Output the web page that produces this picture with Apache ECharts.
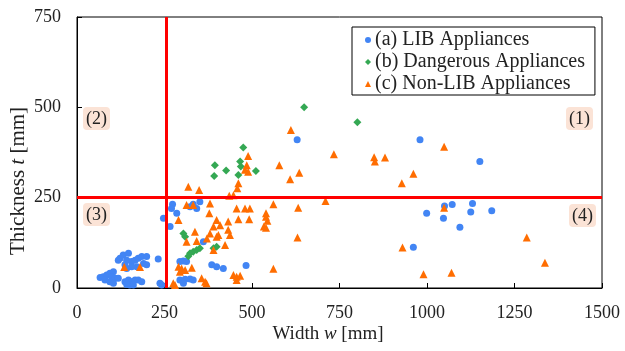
<!DOCTYPE html>
<html>
<head>
<meta charset="utf-8">
<script src="https://cdn.jsdelivr.net/npm/echarts@6/dist/echarts.min.js"></script>
<style>
  html, body { margin: 0; padding: 0; background: #fff; }
  #chart { width: 625px; height: 351px; }
</style>
</head>
<body>
<div id="chart"></div>
<script>
// [width, thickness] in mm
const libAppliances = [
  [66, 29], [75, 31], [85, 36], [94, 41], [104, 45], [99, 31], [109, 27], [94, 17], [104, 13], [80, 22], [118, 27],
  [123, 82], [132, 91], [147, 96], [142, 77], [156, 73], [166, 77], [175, 82], [185, 87], [199, 87], [190, 68],
  [199, 64], [171, 59], [156, 59], [142, 54], [137, 64], [118, 77], [232, 80],
  [137, 17], [147, 22], [156, 17], [166, 22], [175, 22], [185, 17], [151, 8], [161, 8], [142, 10], [237, 13], [242, 8],
  [294, 73], [304, 75], [313, 73], [385, 64], [399, 59], [418, 54], [483, 62], [294, 22], [309, 24], [323, 25],
  [332, 22], [304, 13], [361, 128],
  [273, 232], [270, 220], [285, 207], [247, 193], [266, 170], [332, 232], [342, 220], [351, 239], [323, 225],
  [629, 410], [980, 410], [1151, 350],
  [999, 207], [1047, 193], [1050, 227], [1072, 231], [1094, 168], [1125, 210], [1130, 234], [1185, 214], [961, 113]
];
const dangerousAppliances = [
  [323, 96], [332, 100], [342, 105], [351, 110], [318, 88], [390, 110], [399, 114], [309, 142], [304, 151],
  [475, 389], [394, 340], [426, 325], [392, 310], [466, 350], [468, 336], [461, 313], [511, 324],
  [649, 500], [801, 459]
];
const nonLibAppliances = [
  [135, 58], [180, 58],
  [275, 13], [280, 8], [290, 59], [299, 54], [309, 50], [294, 45], [328, 56], [356, 27], [366, 17], [370, 13],
  [447, 36], [456, 31], [466, 34], [456, 22], [561, 53],
  [313, 128], [342, 130], [371, 137], [390, 105], [423, 119], [399, 142], [337, 156], [380, 151], [404, 147],
  [432, 161], [437, 147], [390, 170], [409, 174], [432, 184], [399, 188], [290, 188], [378, 207], [461, 190],
  [492, 190], [456, 220], [480, 220], [494, 220], [313, 230], [332, 230], [380, 234], [540, 207], [544, 186],
  [534, 170], [540, 167], [540, 197], [561, 232], [632, 222], [630, 140], [710, 241],
  [318, 280], [349, 271], [461, 290], [458, 276], [447, 257], [435, 255], [489, 365], [485, 340], [480, 327],
  [489, 322], [611, 437], [578, 340], [609, 301], [635, 319], [734, 370], [849, 362], [851, 350], [880, 361],
  [961, 316], [928, 290], [1049, 391], [1049, 222],
  [930, 112], [990, 38], [1070, 42], [1285, 140], [1337, 70]
];
const seriesNames = ['(a) LIB Appliances', '(b) Dangerous Appliances', '(c) Non-LIB Appliances'];
const widthLimit = 255;
const thicknessLimit = 250;
const quadrantLabels = ['(1)', '(2)', '(3)', '(4)'];

const serif = '"Liberation Serif", "Times New Roman", serif';
const chart = echarts.init(document.getElementById('chart'));

const quadrantBox = (text, x, y) => ({
  type: 'text',
  left: x,
  top: y,
  style: {
    text: text,
    font: '18px ' + serif,
    fill: '#222',
    backgroundColor: '#FBE3D6',
    padding: [3, 3, 2, 3],
    borderRadius: 4
  }
});

const axisTitle = (parts, x, y, size, rotation) => ({
  type: 'text',
  x: x,
  y: y,
  rotation: rotation,
  style: {
    text: parts.map(([style, s]) => `{${style}|${s}}`).join(''),
    align: 'center',
    verticalAlign: 'middle',
    rich: {
      n: { fontFamily: serif, fontSize: size, fill: '#222' },
      i: { fontFamily: serif, fontSize: size, fontStyle: 'italic', fill: '#222' }
    }
  }
});

chart.setOption({
  animation: false,
  grid: {
    left: 77, right: 23, top: 17, bottom: 63,
    outerBoundsMode: 'none',
    show: true, borderColor: '#000', borderWidth: 1
  },
  xAxis: {
    type: 'value',
    min: 0,
    max: 1500,
    interval: 250,
    axisLine: { lineStyle: { color: '#000' } },
    axisTick: { inside: true, length: 5, lineStyle: { color: '#000' } },
    axisLabel: { fontFamily: serif, fontSize: 18, color: '#222', margin: 16, formatter: v => String(v) },
    splitLine: { show: false }
  },
  yAxis: {
    type: 'value',
    min: 0,
    max: 750,
    interval: 250,
    axisLine: { show: true, lineStyle: { color: '#000' } },
    axisTick: { show: true, inside: true, length: 5, lineStyle: { color: '#000' } },
    axisLabel: { fontFamily: serif, fontSize: 18, color: '#222', margin: 16 },
    splitLine: { show: false }
  },
  legend: {
    orient: 'vertical',
    left: 352,
    top: 27,
    backgroundColor: '#fff',
    borderColor: '#000',
    borderWidth: 1,
    padding: [3, 10, 1, 13],
    itemWidth: 6,
    itemHeight: 6,
    itemGap: 2,
    textStyle: { fontFamily: serif, fontSize: 20, lineHeight: 20, color: '#222', padding: [0, 0, 0, -1] },
    data: seriesNames
  },
  graphic: [
    quadrantBox(quadrantLabels[0], 566, 107),
    quadrantBox(quadrantLabels[1], 83, 107),
    quadrantBox(quadrantLabels[2], 83, 203),
    quadrantBox(quadrantLabels[3], 569, 204),
    axisTitle([['n', 'Width '], ['i', 'w'], ['n', ' [mm]']], 328, 334, 19, 0),
    axisTitle([['n', 'Thickness '], ['i', 't'], ['n', ' [mm]']], 18, 181, 21, Math.PI / 2)
  ],
  series: [
    {
      name: seriesNames[0],
      type: 'scatter',
      symbol: 'circle',
      symbolSize: 7,
      itemStyle: { color: '#4285F4', opacity: 1 },
      data: libAppliances,
      markLine: {
        silent: true,
        symbol: 'none',
        label: { show: false },
        lineStyle: { color: '#FF0000', width: 3, type: 'solid' },
        data: [{ xAxis: widthLimit }, { yAxis: thicknessLimit }]
      }
    },
    {
      name: seriesNames[1],
      type: 'scatter',
      symbol: 'diamond',
      symbolSize: 8,
      itemStyle: { color: '#34A853', opacity: 1 },
      data: dangerousAppliances
    },
    {
      name: seriesNames[2],
      type: 'scatter',
      symbol: 'triangle',
      symbolSize: 8,
      itemStyle: { color: '#FF6D01', opacity: 1 },
      data: nonLibAppliances
    }
  ]
});
</script>
</body>
</html>
